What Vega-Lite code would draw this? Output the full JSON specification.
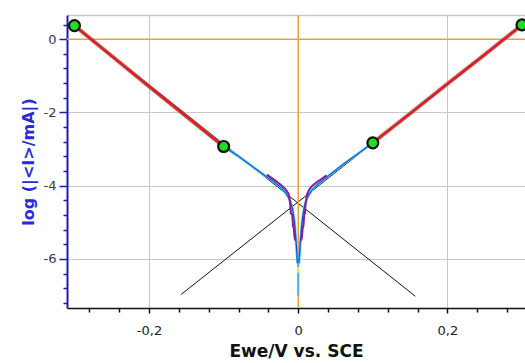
{
  "$schema": "https://vega.github.io/schema/vega-lite/v6.json",
  "autosize": {"type": "none"},
  "padding": {"left": 67, "top": 15, "right": 0, "bottom": 55},
  "width": 458,
  "height": 293,
  "background": "white",
  "config": {
    "view": {"stroke": null},
    "font": "DejaVu Sans"
  },
  "resolve": {"axis": {"x": "independent", "y": "independent"}},
  "datasets": {
    "refs": [{"v": 0}],
    "curve": [
      {"e": -0.3, "logi": 0.37},
      {"e": -0.25, "logi": -0.46},
      {"e": -0.2, "logi": -1.29},
      {"e": -0.15, "logi": -2.11},
      {"e": -0.1, "logi": -2.93},
      {"e": -0.08, "logi": -3.2},
      {"e": -0.06, "logi": -3.5},
      {"e": -0.045, "logi": -3.72},
      {"e": -0.035, "logi": -3.86},
      {"e": -0.025, "logi": -4.02},
      {"e": -0.018, "logi": -4.17},
      {"e": -0.012, "logi": -4.35},
      {"e": -0.008, "logi": -4.6},
      {"e": -0.005, "logi": -5.0},
      {"e": -0.003, "logi": -5.5},
      {"e": -0.001, "logi": -6.1},
      {"e": 0.001, "logi": -6.1},
      {"e": 0.003, "logi": -5.5},
      {"e": 0.005, "logi": -5.0},
      {"e": 0.008, "logi": -4.6},
      {"e": 0.012, "logi": -4.33},
      {"e": 0.018, "logi": -4.13},
      {"e": 0.025, "logi": -3.98},
      {"e": 0.035, "logi": -3.82},
      {"e": 0.045, "logi": -3.66},
      {"e": 0.06, "logi": -3.42},
      {"e": 0.08, "logi": -3.13},
      {"e": 0.1, "logi": -2.83},
      {"e": 0.15, "logi": -2.03},
      {"e": 0.2, "logi": -1.22},
      {"e": 0.25, "logi": -0.42},
      {"e": 0.3, "logi": 0.39}
    ],
    "purple": [
      {"seg": "L", "e": -0.042, "logi": -3.7},
      {"seg": "L", "e": -0.035, "logi": -3.8},
      {"seg": "L", "e": -0.028, "logi": -3.9},
      {"seg": "L", "e": -0.022, "logi": -4.0},
      {"seg": "L", "e": -0.017, "logi": -4.1},
      {"seg": "L", "e": -0.013, "logi": -4.22},
      {"seg": "L", "e": -0.011, "logi": -4.45},
      {"seg": "L", "e": -0.01, "logi": -4.75},
      {"seg": "L", "e": -0.008, "logi": -4.8},
      {"seg": "L", "e": -0.007, "logi": -5.1},
      {"seg": "L", "e": -0.006, "logi": -5.15},
      {"seg": "L", "e": -0.005, "logi": -5.4},
      {"seg": "L", "e": -0.004, "logi": -5.5},
      {"seg": "R", "e": 0.038, "logi": -3.72},
      {"seg": "R", "e": 0.031, "logi": -3.82},
      {"seg": "R", "e": 0.025, "logi": -3.9},
      {"seg": "R", "e": 0.019, "logi": -4.0},
      {"seg": "R", "e": 0.015, "logi": -4.1},
      {"seg": "R", "e": 0.012, "logi": -4.22},
      {"seg": "R", "e": 0.01, "logi": -4.45},
      {"seg": "R", "e": 0.009, "logi": -4.75},
      {"seg": "R", "e": 0.008, "logi": -4.8},
      {"seg": "R", "e": 0.007, "logi": -5.1},
      {"seg": "R", "e": 0.006, "logi": -5.15},
      {"seg": "R", "e": 0.005, "logi": -5.4},
      {"seg": "R", "e": 0.004, "logi": -5.5}
    ],
    "tail": [
      {"part": "cyan", "e": 0, "logi": -6.1},
      {"part": "cyan", "e": 0, "logi": -7.0},
      {"part": "yellow", "e": 0, "logi": -6.22},
      {"part": "yellow", "e": 0, "logi": -6.38}
    ],
    "fitregion": [
      {"seg": "cathodic", "e": -0.3, "logi": 0.37},
      {"seg": "cathodic", "e": -0.25, "logi": -0.46},
      {"seg": "cathodic", "e": -0.2, "logi": -1.29},
      {"seg": "cathodic", "e": -0.15, "logi": -2.11},
      {"seg": "cathodic", "e": -0.1, "logi": -2.93},
      {"seg": "anodic", "e": 0.1, "logi": -2.83},
      {"seg": "anodic", "e": 0.15, "logi": -2.03},
      {"seg": "anodic", "e": 0.2, "logi": -1.22},
      {"seg": "anodic", "e": 0.25, "logi": -0.42},
      {"seg": "anodic", "e": 0.3, "logi": 0.39}
    ],
    "tafel": [
      {"fit": "cathodic", "e": -0.3, "logi": 0.37},
      {"fit": "cathodic", "e": 0.157, "logi": -7.02},
      {"fit": "anodic", "e": -0.157, "logi": -6.97},
      {"fit": "anodic", "e": 0.3, "logi": 0.39}
    ],
    "bounds": [
      {"e": -0.3, "logi": 0.37},
      {"e": -0.1, "logi": -2.93},
      {"e": 0.1, "logi": -2.83},
      {"e": 0.3, "logi": 0.39}
    ]
  },
  "layer": [
    {
      "data": {"name": "tafel"},
      "mark": {"type": "line", "color": "#111111", "strokeWidth": 1},
      "encoding": {
        "x": {
          "field": "e", "type": "quantitative",
          "scale": {"domain": [-0.31, 0.304], "nice": false, "zero": false},
          "axis": {
            "orient": "bottom",
            "values": [-0.2, 0, 0.2],
            "labelExpr": "replace(toString(datum.value), '.', ',')",
            "title": "Ewe/V vs. SCE",
            "grid": true, "gridColor": "#c8c8c8", "gridWidth": 1,
            "domainColor": "#111111", "domainWidth": 1.5,
            "tickColor": "#111111", "tickSize": 5, "tickWidth": 1.5,
            "labelFont": "DejaVu Sans", "labelFontSize": 13, "labelColor": "#222222", "labelPadding": 11,
            "titleFont": "DejaVu Sans", "titleFontSize": 17, "titleFontWeight": "bold", "titleColor": "#111111", "titlePadding": 6
          }
        },
        "y": {
          "field": "logi", "type": "quantitative",
          "scale": {"domain": [-7.34, 0.66], "nice": false, "zero": false},
          "axis": {
            "orient": "left",
            "values": [-6, -4, -2, 0],
            "labelExpr": "toString(datum.value)",
            "title": "log (|<I>/mA|)",
            "grid": true, "gridColor": "#c8c8c8", "gridWidth": 1,
            "domainColor": "#1c1cb0", "domainWidth": 2,
            "tickColor": "#1c1cb0", "tickSize": 8, "tickWidth": 1.5,
            "labelFont": "DejaVu Sans", "labelFontSize": 13, "labelColor": "#333366", "labelPadding": 3,
            "titleFont": "DejaVu Sans", "titleFontSize": 16, "titleFontWeight": "bold", "titleColor": "#2a2ad8", "titlePadding": 7
          }
        },
        "detail": {"field": "fit"}
      }
    },
    {
      "data": {"name": "refs"},
      "mark": {"type": "rule", "color": "#f0a030", "strokeWidth": 1.5},
      "encoding": {
        "y": {"field": "v", "type": "quantitative", "axis": null}
      }
    },
    {
      "data": {"name": "refs"},
      "mark": {"type": "rule", "color": "#f0a030", "strokeWidth": 1.5},
      "encoding": {
        "x": {"field": "v", "type": "quantitative", "axis": null}
      }
    },
    {
      "data": {"name": "curve"},
      "mark": {"type": "line", "color": "#48c0f0", "strokeWidth": 2.5},
      "encoding": {
        "x": {
          "field": "e", "type": "quantitative",
          "axis": {
            "orient": "bottom",
            "values": [-0.28, -0.24, -0.16, -0.12, -0.08, -0.04, 0.04, 0.08, 0.12, 0.16, 0.24, 0.28],
            "labels": false, "grid": false, "domain": false,
            "tickColor": "#111111", "tickSize": 4, "tickWidth": 1.5, "title": null
          }
        },
        "y": {
          "field": "logi", "type": "quantitative",
          "axis": {
            "orient": "left",
            "values": [0.4, -0.4, -0.8, -1.2, -1.6, -2.4, -2.8, -3.2, -3.6, -4.4, -4.8, -5.2, -5.6, -6.4, -6.8, -7.2],
            "labels": false, "grid": false, "domain": false,
            "tickColor": "#1c1cb0", "tickSize": 4, "tickWidth": 1.5, "title": null
          }
        },
        "order": {"field": "e", "type": "quantitative"}
      }
    },
    {
      "data": {"name": "curve"},
      "mark": {"type": "line", "color": "#1f3fd0", "strokeWidth": 1},
      "encoding": {
        "x": {"field": "e", "type": "quantitative", "axis": null},
        "y": {"field": "logi", "type": "quantitative", "axis": null},
        "order": {"field": "e", "type": "quantitative"}
      }
    },
    {
      "data": {"name": "purple"},
      "mark": {"type": "line", "color": "#8a1a9a", "strokeWidth": 2},
      "encoding": {
        "x": {"field": "e", "type": "quantitative", "axis": null},
        "y": {"field": "logi", "type": "quantitative", "axis": null},
        "detail": {"field": "seg"},
        "order": {"field": "logi", "type": "quantitative", "sort": "descending"}
      }
    },
    {
      "data": {"name": "tail"},
      "mark": {"type": "line", "strokeWidth": 2},
      "encoding": {
        "x": {"field": "e", "type": "quantitative", "axis": null},
        "y": {"field": "logi", "type": "quantitative", "axis": null},
        "color": {"field": "part", "type": "nominal", "scale": {"domain": ["cyan", "yellow"], "range": ["#48b0f0", "#f0f060"]}, "legend": null}
      }
    },
    {
      "data": {"name": "fitregion"},
      "mark": {"type": "line", "color": "#8a8a8a", "strokeWidth": 4.5, "opacity": 0.6},
      "encoding": {
        "x": {"field": "e", "type": "quantitative", "axis": null},
        "y": {"field": "logi", "type": "quantitative", "axis": null},
        "detail": {"field": "seg"}
      }
    },
    {
      "data": {"name": "fitregion"},
      "mark": {"type": "line", "color": "#e41e1e", "strokeWidth": 2.8},
      "encoding": {
        "x": {
          "field": "e", "type": "quantitative",
          "axis": {
            "orient": "top", "domain": true, "domainColor": "#c8c8c8", "domainWidth": 1.5,
            "ticks": false, "labels": false, "grid": false, "title": null
          }
        },
        "y": {"field": "logi", "type": "quantitative", "axis": null},
        "detail": {"field": "seg"}
      }
    },
    {
      "data": {"name": "bounds"},
      "mark": {"type": "point", "shape": "circle", "filled": true, "color": "#22dd22", "stroke": "#111111", "strokeWidth": 2.2, "size": 120, "opacity": 1},
      "encoding": {
        "x": {"field": "e", "type": "quantitative", "axis": null},
        "y": {"field": "logi", "type": "quantitative", "axis": null}
      }
    }
  ]
}
